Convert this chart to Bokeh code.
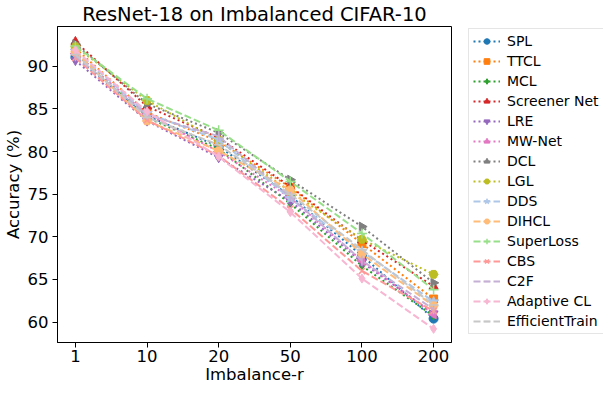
import math
from bokeh.plotting import figure
from bokeh.layouts import row
from bokeh.models import Range1d, FixedTicker, Legend, LegendItem
from bokeh.embed import file_html
from bokeh.resources import INLINE

# ---- data ----
ratios = ["1", "10", "20", "50", "100", "200"]
methods = ["SPL", "TTCL", "MCL", "Screener Net", "LRE", "MW-Net", "DCL", "LGL",
           "DDS", "DIHCL", "SuperLoss", "CBS", "C2F", "Adaptive CL", "EfficientTrain"]
spl = [91.1, 84.2, 80.6, 74.8, 67.8, 60.4]
ttcl = [92.1, 84.6, 81.2, 75.8, 69.2, 62.7]
mcl = [91.6, 84.0, 80.3, 73.9, 66.6, 60.7]
screener_net = [92.9, 85.3, 81.6, 75.9, 69.6, 64.2]
lre = [90.7, 83.6, 79.3, 74.2, 67.0, 61.0]
mw_net = [91.5, 84.4, 80.0, 74.6, 67.2, 60.9]
dcl = [92.6, 85.6, 82.2, 76.7, 71.2, 64.6]
lgl = [92.3, 86.0, 81.3, 75.3, 69.7, 65.6]
dds = [91.8, 84.5, 81.4, 74.5, 68.3, 62.4]
dihcl = [91.7, 83.6, 80.1, 75.5, 68.0, 61.9]
superloss = [92.4, 86.2, 82.5, 76.5, 70.4, 63.8]
cbs = [91.0, 83.7, 79.5, 73.3, 66.0, 61.3]
c2f = [91.2, 84.3, 81.8, 74.7, 67.2, 61.5]
adaptive_cl = [91.9, 84.7, 79.4, 72.9, 65.1, 59.2]
efficienttrain = [91.4, 84.0, 80.8, 75.0, 68.5, 62.0]
series = [spl, ttcl, mcl, screener_net, lre, mw_net, dcl, lgl,
          dds, dihcl, superloss, cbs, c2f, adaptive_cl, efficienttrain]
y_ticks = [60, 65, 70, 75, 80, 85, 90]

# ---- styles ----
colors = ["#1f77b4", "#ff7f0e", "#2ca02c", "#d62728", "#9467bd", "#e377c2", "#7f7f7f", "#bcbd22",
          "#aec7e8", "#ffbb78", "#98df8a", "#ff9896", "#c5b0d5", "#f7b6d2", "#c7c7c7"]
markers = ["circle", "square", "diamond", "triangle", "inverted_triangle", "triangle", "triangle", "hex",
           "star", "hex", "cross", "x", "dash", "diamond", "dash"]
angles = [0, 0, 0, 0, 0, math.pi / 2, -math.pi / 2, 0, 0, 0, 0, 0, math.pi / 2, 0, 0]
sizes = [9, 8, 8, 9, 9, 9, 9, 9, 11, 9, 10, 9, 10, 9, 10]

H = 382
p = figure(frame_width=394, frame_height=316,
           min_border_left=52, min_border_right=4, min_border_top=20, min_border_bottom=46,
           x_range=Range1d(-0.25, 5.25), y_range=Range1d(57.6, 94.68),
           output_backend="svg", toolbar_location=None, tools="")
p.background_fill_color = "white"
p.border_fill_color = "white"
p.outline_line_color = "black"
p.outline_line_width = 1
p.xgrid.visible = False
p.ygrid.visible = False

p.title.text = "ResNet-18 on Imbalanced CIFAR-10"
p.title.align = "center"
p.title.text_font = "DejaVu Sans"
p.title.text_font_size = "19.5px"
p.title.text_font_style = "normal"
p.title.text_color = "black"
p.title.standoff = 1
p.title.offset = 0

# legend panel as its own small figure (its ranges keep the series out of view)
lf = figure(width=148, height=H, min_border=0, x_range=Range1d(100, 101), y_range=Range1d(0, 1),
            x_axis_location=None, y_axis_location=None,
            output_backend="svg", toolbar_location=None, tools="")
lf.outline_line_color = None
lf.xgrid.visible = False
lf.ygrid.visible = False
lf.background_fill_color = "white"
lf.border_fill_color = "white"

def style_kw(col, mk, ang, sz):
    if mk in ("cross", "x", "dash"):
        return dict(marker=mk, size=sz, angle=ang, line_color=col, line_width=1.5, fill_color=col)
    return dict(marker=mk, size=sz, angle=ang, line_color=col, fill_color=col)

xs = list(range(len(ratios)))
items = []
for name, vals, col, mk, ang, sz, i in zip(methods, series, colors, markers, angles, sizes, range(15)):
    dash = "2 3" if i < 8 else "7 3"
    p.line(xs, vals, line_color=col, line_width=2, line_dash=dash)
    p.scatter(xs, vals, **style_kw(col, mk, ang, sz))
    lr = lf.line(xs, vals, line_color=col, line_width=2, line_dash=dash)
    sr = lf.scatter(xs, vals, **style_kw(col, mk, ang, sz))
    items.append(LegendItem(label=name, renderers=[lr, sr]))

for ax in (p.xaxis[0], p.yaxis[0]):
    ax.axis_line_color = "black"
    ax.major_tick_line_color = "black"
    ax.major_tick_out = 5
    ax.major_tick_in = 0
    ax.minor_tick_line_color = None
    ax.major_label_text_font = "DejaVu Sans"
    ax.major_label_text_font_size = "16.5px"
    ax.major_label_text_color = "black"
    ax.axis_label_text_font = "DejaVu Sans"
    ax.axis_label_text_font_size = "16.5px"
    ax.axis_label_text_font_style = "normal"
    ax.axis_label_text_color = "black"

p.xaxis.ticker = FixedTicker(ticks=xs)
p.xaxis.major_label_overrides = {i: r for i, r in enumerate(ratios)}
p.xaxis.major_label_standoff = 2
p.xaxis.axis_label = "Imbalance-r"
p.xaxis.axis_label_standoff = 0
p.yaxis.ticker = FixedTicker(ticks=y_ticks)
p.yaxis.major_label_standoff = 4
p.yaxis.axis_label = "Accuracy (%)"
p.yaxis.axis_label_standoff = 2

legend = Legend(items=items, location=(13, 2), orientation="vertical",
                label_text_font="DejaVu Sans", label_text_font_size="14px",
                label_text_color="black",
                glyph_width=27, glyph_height=14, label_height=14, label_standoff=7,
                spacing=4, padding=4, margin=0,
                border_line_color="#cccccc", border_line_width=1,
                background_fill_color="white", background_fill_alpha=0.8)
lf.add_layout(legend, "center")

layout = row(p, lf)
open("out.html", "w").write(file_html(layout, INLINE))
